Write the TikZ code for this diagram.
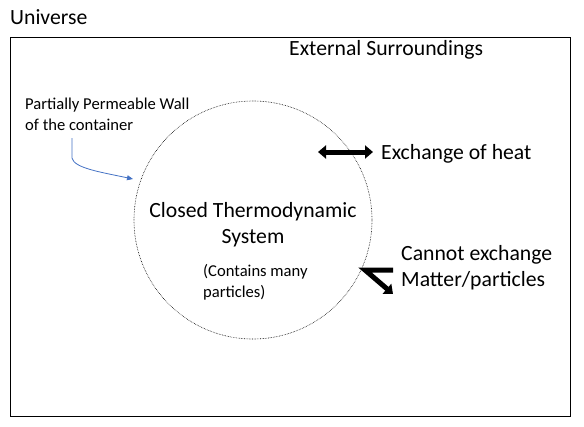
\documentclass[tikz,border=0pt]{standalone}
\usepackage{fontspec}
\setmainfont{Carlito}
\usetikzlibrary{arrows.meta}
\definecolor{wallblue}{RGB}{68,114,196}
\begin{document}
\begin{tikzpicture}[
    x=1pt, y=-1pt,
    big text/.style={inner sep=0pt, font=\fontsize{21.7}{26}\selectfont},
    small text/.style={inner sep=0pt, font=\fontsize{16.6}{21}\selectfont},
    fat arrow/.style={line width=5pt, line join=miter}
  ]
  \useasboundingbox (0,0) rectangle (584,426);

  % Universe and its surroundings
  \node [big text, anchor=base west] (universe) at (10,24) {Universe};
  \draw [line width=0.8pt] (10,37) rectangle (570,416);
  \node [big text, anchor=base west] (surroundings) at (289,55) {External Surroundings};

  % The system
  \node [circle, draw, densely dotted, line width=0.6pt, minimum size=238pt] (system) at (253,220) {};
  \node [big text, align=center] (closed) at (253,225) {Closed Thermodynamic\\System};
  \node [small text, align=left, anchor=west] (particles) at (203,282) {(Contains many\\particles)};

  % Wall
  \node [small text, align=left, anchor=west] (wall) at (25,114) {Partially Permeable Wall\\of the container};
  \coordinate (wall start) at (72,138);
  \coordinate (wall end) at (133,179);
  \draw [wallblue, line width=0.8pt, -{Triangle[length=6pt, width=5pt]}]
    (wall start) -- (72,158) .. controls (74,168) and (100,172) .. (wall end);

  % Heat
  \coordinate (heat left) at (318,152);
  \coordinate (heat right) at (373,152);
  \draw [fat arrow, {Triangle[length=8pt, width=13pt]}-{Triangle[length=8pt, width=13pt]}]
    (heat left) -- (heat right);
  \node [big text, anchor=base west] (heat) at (381,159) {Exchange of heat};

  % No matter
  \coordinate (matter top) at (393,270);
  \coordinate (matter end) at (393,294);
  \draw [fat arrow, -{Triangle[length=8pt, width=13pt]}]
    (matter top) -- (365,270) -- (matter end);
  \node [big text, align=left, anchor=west] (matter) at (401,268) {Cannot exchange\\Matter/particles};
\end{tikzpicture}
\end{document}
